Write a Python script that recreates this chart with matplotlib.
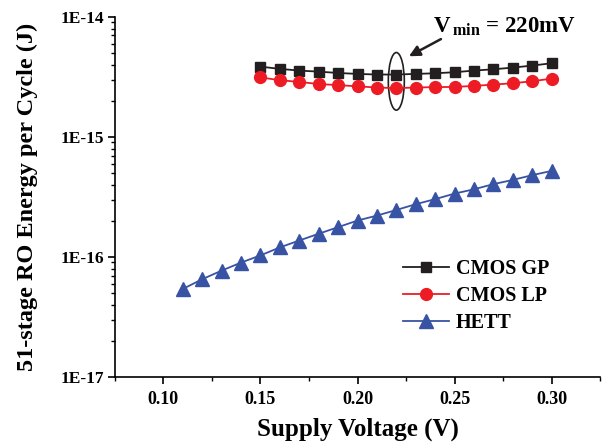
import numpy as np
import matplotlib.pyplot as plt
from matplotlib.patches import Ellipse
from matplotlib.ticker import FixedLocator, LogLocator, FuncFormatter, NullFormatter

plt.rcParams['font.family'] = 'Liberation Serif'
plt.rcParams['font.weight'] = 'bold'
plt.rcParams['mathtext.fontset'] = 'custom'
plt.rcParams['mathtext.rm'] = 'Liberation Serif:bold'
plt.rcParams['mathtext.bf'] = 'Liberation Serif:bold'

# supply voltage sweeps (V)
v_cmos = [0.15, 0.16, 0.17, 0.18, 0.19, 0.20, 0.21, 0.22,
          0.23, 0.24, 0.25, 0.26, 0.27, 0.28, 0.29, 0.30]
v_hett = [0.11, 0.12, 0.13, 0.14, 0.15, 0.16, 0.17, 0.18, 0.19, 0.20,
          0.21, 0.22, 0.23, 0.24, 0.25, 0.26, 0.27, 0.28, 0.29, 0.30]

# energy per cycle (J)
e_cmos_gp = [3.85e-15, 3.69e-15, 3.57e-15, 3.50e-15, 3.41e-15, 3.35e-15, 3.31e-15, 3.31e-15,
             3.35e-15, 3.39e-15, 3.46e-15, 3.57e-15, 3.66e-15, 3.78e-15, 3.93e-15, 4.11e-15]
e_cmos_lp = [3.13e-15, 2.97e-15, 2.87e-15, 2.76e-15, 2.70e-15, 2.64e-15, 2.58e-15, 2.55e-15,
             2.58e-15, 2.60e-15, 2.61e-15, 2.66e-15, 2.73e-15, 2.80e-15, 2.91e-15, 3.06e-15]
e_hett = [5.41e-17, 6.52e-17, 7.69e-17, 8.97e-17, 1.03e-16, 1.20e-16, 1.37e-16, 1.56e-16,
          1.77e-16, 2.01e-16, 2.21e-16, 2.46e-16, 2.75e-16, 3.03e-16, 3.37e-16, 3.66e-16,
          4.04e-16, 4.38e-16, 4.80e-16, 5.21e-16]

v_min = 0.22

fig = plt.figure(figsize=(6.08, 4.45), dpi=100)
ax = fig.add_axes([0.189, 0.153, 0.798, 0.809])

ax.plot(v_cmos, e_cmos_gp, color='#231f20', marker='s', markersize=7.5, lw=1.3, label='CMOS GP')
ax.plot(v_cmos, e_cmos_lp, color='#ed1c24', marker='o', markersize=8.5, lw=1.3, label='CMOS LP')
ax.plot(v_hett, e_hett, color='#3953a4', marker='^', markersize=9.5, lw=1.3, label='HETT')

ax.set_yscale('log')
ax.set_xlim(0.075, 0.325)
ax.set_ylim(1e-17, 1e-14)

ax.xaxis.set_major_locator(FixedLocator([0.10, 0.15, 0.20, 0.25, 0.30]))
ax.xaxis.set_minor_locator(FixedLocator([0.075, 0.125, 0.175, 0.225, 0.275, 0.325]))
ax.xaxis.set_major_formatter(FuncFormatter(lambda x, p: '%.2f' % x))
ax.yaxis.set_major_locator(LogLocator(base=10, numticks=10))
ax.yaxis.set_minor_locator(LogLocator(base=10, subs=np.arange(2, 10), numticks=20))
ax.yaxis.set_minor_formatter(NullFormatter())
ax.yaxis.set_major_formatter(FuncFormatter(lambda y, p: '1E%d' % round(np.log10(y))))

for s in ['top', 'right']:
    ax.spines[s].set_visible(False)
for s in ['left', 'bottom']:
    ax.spines[s].set_linewidth(1.2)
ax.tick_params(which='major', direction='out', length=5, width=1.2)
ax.tick_params(which='minor', direction='out', length=3, width=1.0)
ax.tick_params(axis='x', labelsize=13, pad=5)
ax.tick_params(axis='y', labelsize=12.5, pad=3)

ax.set_xlabel('Supply Voltage (V)', fontsize=18, fontweight='bold', labelpad=7)
ax.set_ylabel('51-stage RO Energy per Cycle (J)', fontsize=17.5, fontweight='bold', labelpad=16)

# ellipse around the minimum-energy point, sized in axes units
i = v_cmos.index(v_min)
y_mid = np.sqrt(e_cmos_gp[i] * e_cmos_lp[i])
cx, cy = (ax.transData + ax.transAxes.inverted()).transform((v_min, y_mid))
ax.add_patch(Ellipse((cx, cy), 0.033, 0.16, transform=ax.transAxes,
                     fill=False, edgecolor='#231f20', lw=1.2))
ax.annotate('', xy=(cx + 0.021, cy + 0.066), xytext=(cx + 0.097, cy + 0.121),
            xycoords='axes fraction', textcoords='axes fraction',
            arrowprops=dict(arrowstyle='-|>', color='#231f20', lw=1.8, mutation_scale=16))
ax.text(cx + 0.075, cy + 0.138, r'V$_{\,\mathrm{min}}$ = 220mV', transform=ax.transAxes,
        fontsize=16.5, fontweight='bold', ha='left', va='baseline')

ax.legend(loc='upper left', bbox_to_anchor=(0.578, 0.35), frameon=False, fontsize=14.5,
          handlelength=2.25, handletextpad=0.35, labelspacing=0.35, borderaxespad=0)

fig.savefig('out.png', dpi=100)
